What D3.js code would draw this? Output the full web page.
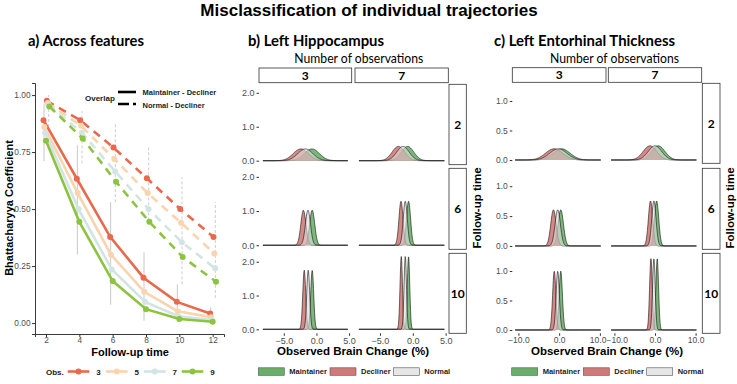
<!DOCTYPE html>
<html>
<head>
<meta charset="UTF-8">
<title>Misclassification of individual trajectories</title>
<script src="https://cdn.jsdelivr.net/npm/d3@7"></script>
<style>
  body { margin: 0; background: #fff; }
  svg { display: block; font-family: "Liberation Sans", Arial, sans-serif; }
  .tick text { fill: #4d4d4d; font-size: 9px; font-family: "Liberation Sans", Arial, sans-serif; }
  .axis-a .tick text { font-size: 8.3px; }
  .axis-c .tick text { font-size: 8.5px; }
  .tick line { stroke: #333; }
  .panel-title { font-family: Lato, "Open Sans", sans-serif; font-weight: bold; font-size: 15px; }
  .facet-title { font-family: Lato, "Open Sans", sans-serif; font-size: 12.5px; }
  .strip rect { fill: #fff; stroke: #333; stroke-width: 0.8px; }
  .strip text { font-family: Lato, "Open Sans", sans-serif; font-weight: bold; font-size: 12px; }
  .axis-title { font-weight: bold; font-size: 11px; }
  .legend text { font-weight: bold; font-size: 7.5px; fill: #222; }
</style>
</head>
<body>
<svg id="chart" width="737" height="384"></svg>
<script>
// ---- panel a data ----
const followUp = [2, 4, 6, 8, 10, 12];
const obsLevels = [3, 5, 7, 9];
const obsColors = ['#E9694C', '#FAD4AF', '#D3E4E5', '#8CC441'];
// Maintainer - Decliner overlap (solid)
const mdObs3 = [0.89, 0.633, 0.378, 0.199, 0.093, 0.042];
const mdObs5 = [0.86, 0.57, 0.30, 0.137, 0.052, 0.026];
const mdObs7 = [0.835, 0.50, 0.235, 0.093, 0.030, 0.013];
const mdObs9 = [0.80, 0.444, 0.184, 0.061, 0.018, 0.006];
// Normal - Decliner overlap (dashed)
const ndObs3 = [0.975, 0.89, 0.77, 0.635, 0.50, 0.378];
const ndObs5 = [0.965, 0.865, 0.72, 0.57, 0.44, 0.305];
const ndObs7 = [0.958, 0.835, 0.665, 0.50, 0.355, 0.24];
const ndObs9 = [0.95, 0.81, 0.62, 0.444, 0.29, 0.181];
// spread bars
const mdErrLo = [0.71, 0.30, 0.08, 0.01, 0.02, 0.0];
const mdErrHi = [0.96, 0.78, 0.53, 0.31, 0.17, 0.07];
const ndErrLo = [0.86, 0.70, 0.53, 0.45, 0.17, 0.11];
const ndErrHi = [1.0, 0.93, 0.88, 0.77, 0.64, 0.53];

// ---- panels b / c data ----
const densityGroups = ['Maintainer', 'Decliner', 'Normal'];
const densityFill = ['#2A8D2A', '#BA413E', '#DBDBDB'];
const facetRows = [2, 6, 10];   // follow-up time
const facetCols = [3, 7];       // number of observations
// location of each density peak: [row][col] -> [Maintainer, Decliner, Normal]
const hippoCenter = [
  [[-0.7, -2.4, -1.7], [-0.8, -2.2, -1.5]],
  [[-0.65, -2.0, -1.3], [-0.65, -1.8, -1.15]],
  [[-0.65, -1.87, -1.26], [-0.65, -1.76, -1.15]]
];
const hippoSd = [[1.15, 0.95], [0.39, 0.31], [0.228, 0.185]];
const entoCenter = [
  [[0.6, -1.25, -0.2], [0.8, -1.25, 0.0]],
  [[0.4, -1.4, -0.35], [0.4, -1.1, -0.27]],
  [[0.4, -1.2, -0.35], [0.55, -1.0, -0.27]]
];
const entoSd = [[2.1, 1.66], [0.66, 0.53], [0.4, 0.33]];
const hippoTicksX = [-5, 0, 5];
const hippoTicksY = [0, 1, 2];
const entoTicksX = [-10, 0, 10];
const entoTicksY = [0, 0.5, 1];

const svg = d3.select('#chart');

svg.append('text')
  .attr('x', 369).attr('y', 16)
  .attr('text-anchor', 'middle')
  .style('font-weight', 'bold').style('font-size', '17px')
  .text('Misclassification of individual trajectories');

function panelTitle(x, len, label) {
  svg.append('text').attr('class', 'panel-title')
    .attr('x', x).attr('y', 46)
    .attr('textLength', len).attr('lengthAdjust', 'spacingAndGlyphs')
    .text(label);
}
panelTitle(28, 116, 'a) Across features');
panelTitle(248, 136, 'b) Left Hippocampus');
panelTitle(494, 181, 'c) Left Entorhinal Thickness');

// ================= panel a =================
const xA = d3.scaleLinear().domain([1.34, 12.68]).range([35, 224]);
const yA = d3.scaleLinear().domain([-0.048, 1.053]).range([334, 83]);

const gA = svg.append('g');

const axA = gA.append('g').attr('class', 'axis-a').attr('transform', 'translate(0,334)')
  .call(d3.axisBottom(xA).tickValues(followUp).tickSizeOuter(0).tickSize(3).tickPadding(0));
const ayA = gA.append('g').attr('class', 'axis-a').attr('transform', 'translate(35,0)')
  .call(d3.axisLeft(yA).tickValues([0, 0.25, 0.5, 0.75, 1]).tickFormat(d3.format('.2f'))
    .tickSizeOuter(0).tickSize(3).tickPadding(1.5));
[axA, ayA].forEach(a => a.select('.domain').attr('stroke', '#222').attr('stroke-width', 0.9));

const mdSeries = [mdObs3, mdObs5, mdObs7, mdObs9];
const ndSeries = [ndObs3, ndObs5, ndObs7, ndObs9];

// spread bars
const errG = gA.append('g');
followUp.forEach((f, i) => {
  errG.append('line')
    .attr('x1', xA(f - 0.12)).attr('x2', xA(f - 0.12))
    .attr('y1', yA(mdErrLo[i])).attr('y2', yA(mdErrHi[i]))
    .attr('stroke', '#c8c8c8').attr('stroke-width', 1);
  errG.append('line')
    .attr('x1', xA(f + 0.16)).attr('x2', xA(f + 0.16))
    .attr('y1', yA(ndErrLo[i])).attr('y2', yA(ndErrHi[i]))
    .attr('stroke', '#c8c8c8').attr('stroke-width', 0.9)
    .attr('stroke-dasharray', '3,2');
});

function drawSeries(series, offset, dash) {
  series.forEach((vals, j) => {
    const pts = followUp.map((f, i) => [f + offset + 0.05 * j, vals[i]]);
    gA.append('path')
      .datum(pts)
      .attr('fill', 'none')
      .attr('stroke', obsColors[j])
      .attr('stroke-width', 2.6)
      .attr('stroke-dasharray', dash)
      .attr('d', d3.line().x(d => xA(d[0])).y(d => yA(d[1])));
    gA.selectAll(null).data(pts).enter().append('circle')
      .attr('cx', d => xA(d[0])).attr('cy', d => yA(d[1]))
      .attr('r', 3).attr('fill', obsColors[j]);
  });
}
drawSeries(mdSeries, -0.15, null);
drawSeries(ndSeries, 0.05, '8,6');

gA.append('text').attr('class', 'axis-title')
  .attr('x', 130).attr('y', 356).attr('text-anchor', 'middle')
  .text('Follow-up time');
gA.append('text').attr('class', 'axis-title')
  .attr('transform', 'translate(12.5,208) rotate(-90)')
  .attr('text-anchor', 'middle')
  .text('Bhattacharyya Coefficient');

// overlap legend
const legOv = gA.append('g').attr('class', 'legend');
legOv.append('text').attr('x', 85).attr('y', 101).style('font-size', '8px').text('Overlap');
legOv.append('line').attr('x1', 118).attr('x2', 136).attr('y1', 92).attr('y2', 92)
  .attr('stroke', '#000').attr('stroke-width', 2.6);
legOv.append('line').attr('x1', 118).attr('x2', 136).attr('y1', 104).attr('y2', 104)
  .attr('stroke', '#000').attr('stroke-width', 2.6).attr('stroke-dasharray', '11,4');
legOv.append('text').attr('x', 142.5).attr('y', 95).text('Maintainer - Decliner');
legOv.append('text').attr('x', 142.5).attr('y', 107.5).text('Normal - Decliner');

// obs legend
const legObs = gA.append('g').attr('class', 'legend');
legObs.append('text').attr('x', 46).attr('y', 374.5).style('font-size', '8px').text('Obs.');
const obsKeyX = [67.7, 106, 144, 181.7];
obsLevels.forEach((o, j) => {
  const x0 = obsKeyX[j];
  legObs.append('line').attr('x1', x0).attr('x2', x0 + 21.6).attr('y1', 371.5).attr('y2', 371.5)
    .attr('stroke', obsColors[j]).attr('stroke-width', 2.6);
  legObs.append('circle').attr('cx', x0 + 10.8).attr('cy', 371.5).attr('r', 3).attr('fill', obsColors[j]);
  legObs.append('text').attr('x', x0 + 28.5).attr('y', 374.5).style('font-size', '8px').text(o);
});

// ================= panels b and c =================
function drawFacets(cfg) {
  const g = svg.append('g').attr('class', cfg.cls);

  g.append('text').attr('class', 'facet-title')
    .attr('x', cfg.titleX).attr('y', 63)
    .attr('textLength', 129).attr('lengthAdjust', 'spacingAndGlyphs')
    .text('Number of observations');

  // column strips
  facetCols.forEach((c, ci) => {
    const [x0, x1] = cfg.colX[ci];
    const s = g.append('g').attr('class', 'strip');
    s.append('rect').attr('x', x0).attr('y', cfg.stripY[0])
      .attr('width', x1 - x0).attr('height', cfg.stripY[1] - cfg.stripY[0]);
    s.append('text').attr('x', (x0 + x1) / 2).attr('y', (cfg.stripY[0] + cfg.stripY[1]) / 2 + 4.2)
      .attr('text-anchor', 'middle').text(c);
  });

  facetRows.forEach((r, ri) => {
    const [y0, y1] = cfg.rowY[ri];
    const s = g.append('g').attr('class', 'strip');
    s.append('rect').attr('x', cfg.rowStripX[0]).attr('y', y0)
      .attr('width', cfg.rowStripX[1] - cfg.rowStripX[0]).attr('height', y1 - y0);
    s.append('text').attr('x', (cfg.rowStripX[0] + cfg.rowStripX[1]) / 2).attr('y', (y0 + y1) / 2 + 4.2)
      .attr('text-anchor', 'middle').text(r);

    const y = d3.scaleLinear().domain(cfg.yDomain).range([y1, y0]);

    g.append('g').attr('transform', `translate(${cfg.colX[0][0]},0)`)
      .call(d3.axisLeft(y).tickValues(cfg.ticksY).tickFormat(d3.format('.1f'))
        .tickSize(2.5).tickPadding(2))
      .call(a => a.select('.domain').remove());

    facetCols.forEach((c, ci) => {
      const [x0, x1] = cfg.colX[ci];
      const x = d3.scaleLinear().domain(cfg.xDomain).range([x0, x1]);
      const xs = d3.range(0, 241).map(k => cfg.curveRange[0] + (cfg.curveRange[1] - cfg.curveRange[0]) * k / 240);
      const sd = cfg.sd[ri][ci];
      densityGroups.forEach((grp, gi) => {
        const mu = cfg.center[ri][ci][gi];
        const pts = xs.map(v => [v, Math.exp(-0.5 * ((v - mu) / sd) ** 2) / (sd * Math.sqrt(2 * Math.PI))]);
        g.append('path').datum(pts)
          .attr('fill', densityFill[gi]).attr('fill-opacity', 0.62)
          .attr('d', d3.area().x(d => x(d[0])).y0(y(0)).y1(d => y(d[1])));
        g.append('path').datum(pts)
          .attr('fill', 'none').attr('stroke', '#111').attr('stroke-width', 0.6)
          .attr('d', d3.line().x(d => x(d[0])).y(d => y(d[1])));
      });

      if (ri === facetRows.length - 1) {
        const ax = g.append('g').attr('transform', `translate(0,${y1})`)
          .call(d3.axisBottom(x).tickValues(cfg.ticksX).tickFormat(d3.format('.1f'))
            .tickSize(2.5).tickPadding(1.5))
          .call(a => a.select('.domain').remove());
        // keep the touching edge labels of neighbouring columns apart
        if (cfg.edgeNudge) {
          const labels = ax.selectAll('.tick text');
          const n = labels.size();
          labels.attr('dx', (d, k) => {
            if (ci === 0 && k === n - 1) return -cfg.edgeNudge;
            if (ci === 1 && k === 0) return cfg.edgeNudge;
            return 0;
          });
        }
      }
    });
  });

  g.append('text').attr('class', 'axis-title')
    .attr('x', cfg.xTitleX).attr('y', 355).attr('text-anchor', 'middle')
    .style('font-size', '11.5px')
    .text('Observed Brain Change (%)');
  g.append('text').attr('class', 'axis-title')
    .attr('transform', `translate(${cfg.yTitleX},208) rotate(-90)`)
    .attr('text-anchor', 'middle').style('font-size', '11.5px')
    .text('Follow-up time');

  // fill legend
  const leg = g.append('g').attr('class', 'legend');
  densityGroups.forEach((grp, gi) => {
    const lx = cfg.legendX[gi];
    leg.append('rect').attr('x', lx).attr('y', 367.8).attr('width', 26).attr('height', 7.5)
      .attr('fill', densityFill[gi]).attr('fill-opacity', 0.7)
      .attr('stroke', '#555').attr('stroke-width', 0.6);
    leg.append('text').attr('x', lx + 31).attr('y', 374.3).text(grp);
  });
}

drawFacets({
  cls: 'axis-b',
  titleX: 294.3,
  colX: [[259, 351.7], [355, 448.3]],
  stripY: [68, 82.7],
  rowY: [[84.3, 164.7], [168.3, 249.3], [253.3, 333.3]],
  rowStripX: [449, 466.3],
  yTitleX: 481,
  xDomain: [-8.8, 5.4],
  yDomain: [-0.118, 2.25],
  curveRange: [-8.2, 4.8],
  center: hippoCenter,
  sd: hippoSd,
  ticksX: hippoTicksX,
  ticksY: hippoTicksY,
  edgeNudge: 0,
  xTitleX: 353,
  legendX: [258.3, 330, 393.3]
});

drawFacets({
  cls: 'axis-c',
  titleX: 550,
  colX: [[512.3, 606], [608.3, 701.7]],
  stripY: [67.7, 82.3],
  rowY: [[83.3, 163.3], [168.3, 249.3], [253.3, 333.3]],
  rowStripX: [702.3, 720],
  yTitleX: 733.5,
  xDomain: [-11.5, 11.5],
  yDomain: [-0.056, 1.3],
  curveRange: [-10.8, 10.2],
  center: entoCenter,
  sd: entoSd,
  ticksX: entoTicksX,
  ticksY: entoTicksY,
  edgeNudge: 2.3,
  xTitleX: 607,
  legendX: [511.7, 583.3, 646.7]
});
</script>
</body>
</html>
